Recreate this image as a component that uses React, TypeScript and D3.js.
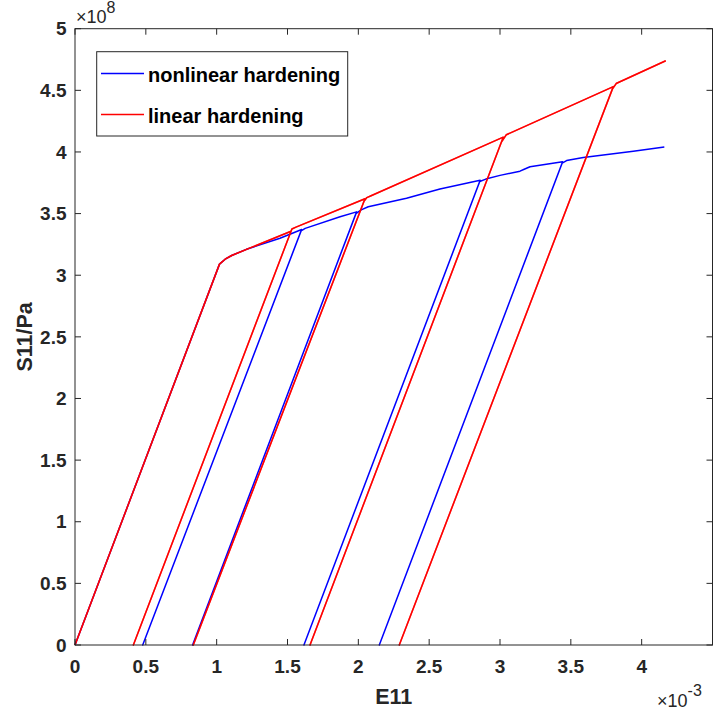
import React from "react";
import * as d3 from "d3";

// Strain E11 (×10^-3) and stress S11 (×10^8 Pa) along each loading / unloading path
const nonlinearStrain = [
  0, 1.02, 1.06, 1.106, 1.21, 1.447, 1.6, 0.478, 1.596, 1.625, 1.871, 1.988, 0.83, 1.983, 2.02, 2.07,
  2.34, 2.576, 2.86, 1.616, 2.857, 2.9, 3.0, 3.141, 3.175, 3.212, 3.442, 2.148, 3.439, 3.47, 3.588, 3.941, 4.16,
];
const nonlinearStress = [
  0, 3.09, 3.13, 3.16, 3.21, 3.3, 3.371, 0, 3.36, 3.38, 3.474, 3.514, 0, 3.5, 3.53, 3.555,
  3.625, 3.7, 3.77, 0, 3.76, 3.78, 3.81, 3.844, 3.862, 3.88, 3.92, 0, 3.91, 3.93, 3.955, 4.006, 4.04,
];

const linearStrain = [
  0, 1.02, 1.06, 1.106, 1.525, 0.412, 1.531, 1.56, 2.047, 0.835, 2.04, 2.06, 2.09, 3.023, 1.659, 3.01,
  3.045, 3.094, 3.8, 2.289, 3.793, 3.82, 4.17,
];
const linearStress = [
  0, 3.09, 3.13, 3.16, 3.357, 0, 3.375, 3.39, 3.62, 0, 3.6, 3.63, 3.645, 4.12, 0, 4.08,
  4.14, 4.165, 4.53, 0, 4.51, 4.555, 4.74,
];

const xTicks = [0, 0.5, 1, 1.5, 2, 2.5, 3, 3.5, 4];
const yTicks = [0, 0.5, 1, 1.5, 2, 2.5, 3, 3.5, 4, 4.5, 5];

const seriesNames = ["nonlinear hardening", "linear hardening"];
const seriesColors = ["#0000ff", "#ff0000"];

const W = 713;
const H = 713;
const left = 75;
const right = 712.5;
const top = 28.7;
const bottom = 645;
const axisColor = "#262626";
const font = "'Liberation Sans', Arial, Helvetica, sans-serif";

export default function App() {
  const x = d3.scaleLinear().domain([0, 4.5]).range([left, right]);
  const y = d3.scaleLinear().domain([0, 5]).range([bottom, top]);

  const line = d3
    .line<[number, number]>()
    .x((d) => x(d[0]))
    .y((d) => y(d[1]));

  const series = [
    nonlinearStrain.map((s, i) => [s, nonlinearStress[i]] as [number, number]),
    linearStrain.map((s, i) => [s, linearStress[i]] as [number, number]),
  ];

  const tickLen = 6;
  const redPath = line(series[1]) ?? "";

  return (
    <svg
      width={W}
      height={H}
      style={{ position: "absolute", left: 0, top: 0, background: "#fff" }}
      fontFamily={font}
    >
      <rect x={0} y={0} width={W} height={H} fill="#fff" />

      {/* curves: the linear-hardening curve sits on top where both share the elastic branch */}
      <g fill="none" strokeWidth={1.5} strokeLinejoin="round">
        {series.map((pts, i) => (
          <path key={i} d={line(pts) ?? ""} stroke={seriesColors[i]} />
        ))}
        <path d={redPath} stroke={seriesColors[1]} strokeOpacity={0.6} />
      </g>

      {/* axes box */}
      <rect
        x={left}
        y={top}
        width={right - left}
        height={bottom - top}
        fill="none"
        stroke={axisColor}
        strokeWidth={1}
      />

      {/* ticks on all four sides, pointing inward */}
      <g stroke={axisColor} strokeWidth={1}>
        {xTicks.map((t) => (
          <g key={t}>
            <line x1={x(t)} x2={x(t)} y1={bottom} y2={bottom - tickLen} />
            <line x1={x(t)} x2={x(t)} y1={top} y2={top + tickLen} />
          </g>
        ))}
        {yTicks.map((t) => (
          <g key={t}>
            <line x1={left} x2={left + tickLen} y1={y(t)} y2={y(t)} />
            <line x1={right} x2={right - tickLen} y1={y(t)} y2={y(t)} />
          </g>
        ))}
      </g>

      <g fill={axisColor} fontWeight="bold" fontSize={19}>
        {xTicks.map((t) => (
          <text key={t} x={x(t)} y={672.5} textAnchor="middle">
            {String(t)}
          </text>
        ))}
        {yTicks.map((t) => (
          <text key={t} x={66.5} y={y(t) + 6.7} textAnchor="end">
            {String(t)}
          </text>
        ))}
      </g>

      {/* exponent labels */}
      <text x={76} y={22.5} fill={axisColor} fontSize={18}>
        ×10
        <tspan fontSize={16} dy={-10}>
          8
        </tspan>
      </text>
      <text x={657} y={706.5} fill={axisColor} fontSize={18}>
        ×10
        <tspan fontSize={16} dy={-11}>
          -3
        </tspan>
      </text>

      {/* axis titles */}
      <text
        x={(left + right) / 2}
        y={703.5}
        textAnchor="middle"
        fill={axisColor}
        fontWeight="bold"
        fontSize={21.5}
      >
        E11
      </text>
      <text
        transform={`translate(32, ${(top + bottom) / 2}) rotate(-90)`}
        textAnchor="middle"
        fill={axisColor}
        fontWeight="bold"
        fontSize={21.5}
      >
        S11/Pa
      </text>

      {/* legend */}
      <g>
        <rect x={96.7} y={51.7} width={251} height={84.3} fill="#fff" stroke={axisColor} strokeWidth={1} />
        {seriesNames.map((name, i) => {
          const ly = i === 0 ? 73.5 : 114.5;
          return (
            <g key={name}>
              <line x1={101} x2={144} y1={ly} y2={ly} stroke={seriesColors[i]} strokeWidth={1.5} />
              <text x={148} y={ly + 8.2} fontSize={20} fontWeight="bold" fill="#000">
                {name}
              </text>
            </g>
          );
        })}
      </g>
    </svg>
  );
}
